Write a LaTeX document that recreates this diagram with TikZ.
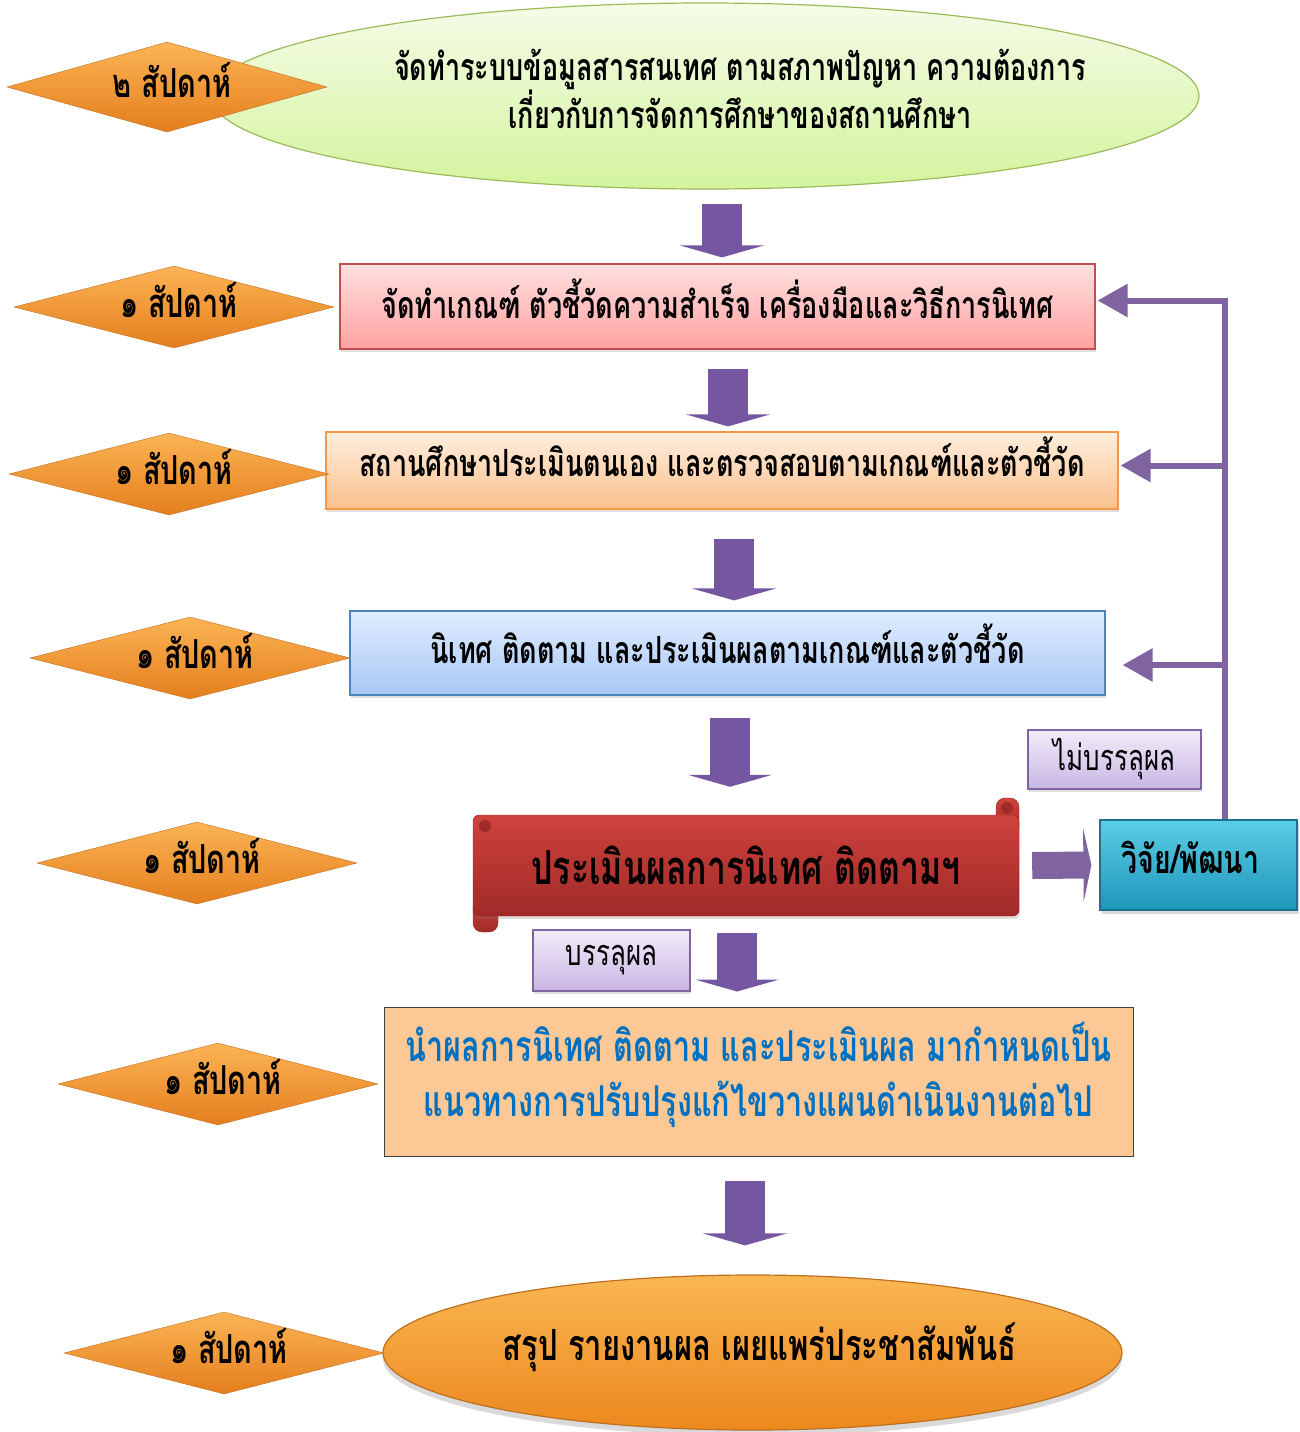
\documentclass[tikz,border=0pt]{standalone}
\usepackage{fontspec}
\newfontfamily\thaifont[Script=Thai,FakeStretch=0.72]{Loma}
\usepackage{tikz}
\usetikzlibrary{calc,shapes.geometric,arrows.meta,shadows}

\definecolor{greentop}{RGB}{245,252,232}
\definecolor{greenbot}{RGB}{212,244,158}
\definecolor{greenedge}{RGB}{155,187,89}
\definecolor{weektop}{RGB}{252,180,84}
\definecolor{weekbot}{RGB}{228,126,30}
\definecolor{weekedge}{RGB}{196,108,30}
\definecolor{pinktop}{RGB}{255,224,224}
\definecolor{pinkbot}{RGB}{255,160,160}
\definecolor{pinkedge}{RGB}{192,80,77}
\definecolor{peachtop}{RGB}{254,238,222}
\definecolor{peachbot}{RGB}{251,192,140}
\definecolor{peachedge}{RGB}{247,150,70}
\definecolor{bluetop}{RGB}{224,236,255}
\definecolor{bluebot}{RGB}{168,200,245}
\definecolor{blueedge}{RGB}{79,129,189}
\definecolor{scrolltop}{RGB}{206,66,60}
\definecolor{scrollbot}{RGB}{160,42,40}
\definecolor{scrolledge}{RGB}{150,40,38}
\definecolor{lavtop}{RGB}{242,236,249}
\definecolor{lavbot}{RGB}{200,182,228}
\definecolor{lavedge}{RGB}{128,100,162}
\definecolor{cyantop}{RGB}{92,206,230}
\definecolor{cyanbot}{RGB}{28,150,186}
\definecolor{cyanedge}{RGB}{25,115,140}
\definecolor{planfill}{RGB}{252,200,150}
\definecolor{plantext}{RGB}{0,112,192}
\definecolor{reporttop}{RGB}{250,182,82}
\definecolor{reportbot}{RGB}{236,136,30}
\definecolor{reportedge}{RGB}{190,112,30}
\definecolor{fbpurple}{RGB}{128,100,162}
\definecolor{flowpurple}{RGB}{116,87,160}

\def\bigfont{\thaifont\bfseries\fontsize{37.5}{48}\selectfont}

\tikzset{
	week/.style={diamond, aspect=3.9, draw=weekedge, top color=weektop, bottom color=weekbot,
		minimum width=320pt, minimum height=82pt, inner sep=0pt, text depth=14pt,
		font=\thaifont\bfseries\fontsize{40}{48}\selectfont},
	stepbox/.style={rectangle, minimum width=755pt, minimum height=85pt, line width=1.2pt,
		font=\bigfont, drop shadow={shadow xshift=1pt, shadow yshift=-3pt, opacity=0.25}},
	tagbox/.style={rectangle, draw=lavedge, line width=1.2pt, top color=lavtop, bottom color=lavbot,
		font=\thaifont\fontsize{36}{40}\selectfont,
		drop shadow={shadow xshift=1pt, shadow yshift=-3pt, opacity=0.25}},
	flow/.style={draw=flowpurple, line width=40pt, -{Triangle[length=12pt,width=84pt]}},
	fbline/.style={draw=fbpurple, line width=6pt, -{Triangle[length=30pt,width=32pt]}},
}

\begin{document}
\begin{tikzpicture}[x=1pt, y=-1pt]
	\useasboundingbox (0,0) rectangle (1299,1432);
	%%%%% START %%%%%

	% main steps
	\node[ellipse, draw=greenedge, line width=1.2pt, top color=greentop, bottom color=greenbot,
		minimum width=988pt, minimum height=186pt, inner sep=0pt,
		label={[font=\bigfont, align=center, xshift=35pt, yshift=7pt]center:จัดทำระบบข้อมูลสารสนเทศ ตามสภาพปัญหา ความต้องการ\\เกี่ยวกับการจัดการศึกษาของสถานศึกษา}]
		(info) at (705,96) {};
	\node[stepbox, draw=pinkedge, top color=pinktop, bottom color=pinkbot, text depth=16pt]
		(criteria) at (717.5,306.5) {จัดทำเกณฑ์ ตัวชี้วัดความสำเร็จ เครื่องมือและวิธีการนิเทศ};
	\node[stepbox, draw=peachedge, top color=peachtop, bottom color=peachbot, minimum width=792pt, minimum height=77pt,
		text depth=28pt]
		(selfeval) at (722,470.5) {สถานศึกษาประเมินตนเอง และตรวจสอบตามเกณฑ์และตัวชี้วัด};
	\node[stepbox, draw=blueedge, top color=bluetop, bottom color=bluebot, minimum height=84pt, text depth=18pt]
		(supervise) at (727.5,653) {นิเทศ ติดตาม และประเมินผลตามเกณฑ์และตัวชี้วัด};

	% scroll
	\draw[scrolledge, top color=scrolltop, bottom color=scrollbot, rounded corners=9pt] (996,798) rectangle (1019,836);
	\draw[scrolledge, top color=scrolltop, bottom color=scrollbot, rounded corners=9pt] (473,898) rectangle (498,932);
	\node[rectangle, draw=scrolledge, top color=scrolltop, bottom color=scrollbot, rounded corners=6pt,
		minimum width=546pt, minimum height=101pt, font=\thaifont\bfseries\fontsize{47}{52}\selectfont,
		drop shadow={shadow xshift=1pt, shadow yshift=-3pt, opacity=0.25}]
		(evaluate) at (746,865.5) {ประเมินผลการนิเทศ ติดตามฯ};
	\fill[scrollbot] (1007,808) circle (6);
	\fill[scrollbot] (485,826) circle (6);

	\node[rectangle, draw=cyanedge, line width=1.2pt, top color=cyantop, bottom color=cyanbot,
		minimum width=197pt, minimum height=90pt, font=\thaifont\bfseries\fontsize{39.5}{44}\selectfont,
		text depth=16pt, drop shadow={shadow xshift=2pt, shadow yshift=-4pt, opacity=0.3}]
		(research) at (1198.5,865) {\hspace*{-16pt}วิจัย/พัฒนา};

	\node[tagbox, minimum width=173pt, minimum height=59pt] (notmet) at (1114.5,759.5) {ไม่บรรลุผล};
	\node[tagbox, minimum width=157pt, minimum height=61pt] (met) at (611.5,960.5) {บรรลุผล};

	\node[rectangle, draw=black!75, line width=1pt, fill=planfill, minimum width=749pt, minimum height=149pt,
		font=\thaifont\bfseries\fontsize{42.5}{55}\selectfont, text=plantext, align=center, text depth=24pt]
		(plan) at (758.5,1081.5) {นำผลการนิเทศ ติดตาม และประเมินผล มากำหนดเป็น\\แนวทางการปรับปรุงแก้ไขวางแผนดำเนินงานต่อไป};

	\node[ellipse, draw=reportedge, line width=1.2pt, top color=reporttop, bottom color=reportbot,
		minimum width=739pt, minimum height=155pt, inner sep=0pt,
		label={[font=\thaifont\bfseries\fontsize{43}{48}\selectfont, xshift=7pt, yshift=5pt]center:สรุป รายงานผล เผยแพร่ประชาสัมพันธ์},
		drop shadow={shadow xshift=0pt, shadow yshift=-6pt, opacity=0.3}]
		(report) at (752.5,1352.5) {};

	% weeks
	\node[week, minimum height=90pt] (w1) at (167,87) {\hspace*{10pt}๒ สัปดาห์};
	\node[week] (w2) at (174,307) {\hspace*{10pt}๑ สัปดาห์};
	\node[week] (w3) at (169,474) {\hspace*{10pt}๑ สัปดาห์};
	\node[week] (w4) at (190,658) {\hspace*{10pt}๑ สัปดาห์};
	\node[week] (w5) at (197,863) {\hspace*{10pt}๑ สัปดาห์};
	\node[week] (w6) at (218,1084) {\hspace*{10pt}๑ สัปดาห์};
	\node[week] (w7) at (224,1353) {\hspace*{10pt}๑ สัปดาห์};

	% down arrows
	\draw[flow] ($(info.south)+(17,14)$) -- ($(criteria.north)+(4.5,-6)$);
	\draw[flow] ($(criteria.south)+(10.5,19)$) -- ($(selfeval.north)+(6,-5)$);
	\draw[flow] ($(selfeval.south)+(12,29)$) -- ($(supervise.north)+(6.5,-10)$);
	\draw[flow] ($(supervise.south)+(2.5,22)$) -- ($(evaluate.north)+(-16,-28)$);
	\draw[flow] ($(evaluate.south)+(-9,17)$) -- ($(plan.north)+(-21.5,-15)$);
	\draw[flow] ($(plan.south)+(-13.5,24)$) -- ($(report.north)+(-7.5,-29)$);

	% to research
	\draw[draw=fbpurple, line width=27pt, -{Triangle[length=8pt,width=73pt]}]
		([xshift=13pt]evaluate.east) -- ([xshift=-8pt]research.west);

	% feedback
	\coordinate (railx) at (1225,0);
	\coordinate (crin) at ([xshift=2pt,yshift=6pt]criteria.east);
	\coordinate (sein) at ([xshift=2pt,yshift=5pt]selfeval.east);
	\coordinate (suin) at ([xshift=17pt,yshift=-12pt]supervise.east);
	\draw[fbline] (research.north -| railx) |- (crin);
	\draw[fbline] (sein -| railx) -- (sein);
	\draw[fbline] (suin -| railx) -- (suin);

	%%%%% END %%%%%
\end{tikzpicture}
\end{document}
